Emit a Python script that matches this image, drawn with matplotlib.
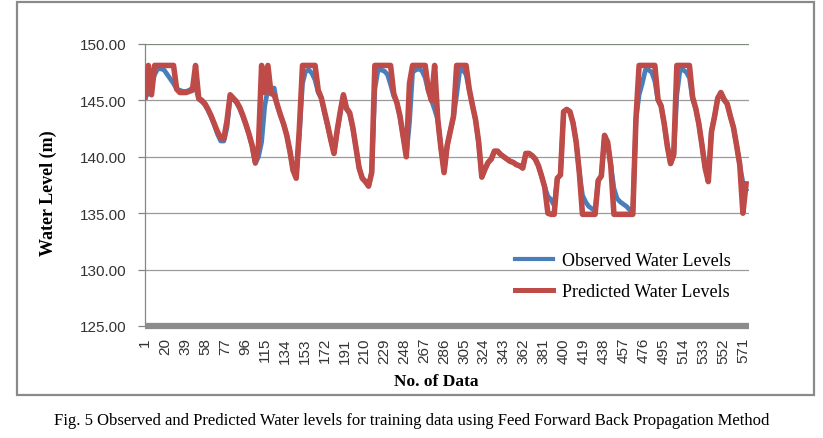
import numpy as np
import matplotlib
matplotlib.use("Agg")
import matplotlib.pyplot as plt
from matplotlib.patches import Rectangle
from matplotlib.lines import Line2D

data_no = np.arange(1, 577, 3)

observed = [
    145.3, 145.6, 146.4, 147.3, 147.8, 147.8, 147.7, 147.3, 146.9, 146.5,
    146.0, 145.9, 145.8, 145.8, 145.9, 146.1, 146.2, 145.1, 144.9, 144.6,
    144.1, 143.5, 142.8, 142.0, 141.4, 141.4, 142.6, 145.3, 145.1, 144.8,
    144.3, 143.6, 142.8, 142.0, 140.9, 139.4, 140.0, 141.3, 144.5, 146.0,
    146.0, 146.1, 144.5, 143.7, 142.9, 141.9, 140.5, 138.8, 138.2, 142.0,
    146.5, 147.6, 147.7, 147.4, 146.8, 145.7, 145.2, 143.9, 142.7, 141.5,
    140.3, 142.2, 143.9, 145.4, 144.2, 143.8, 142.5, 140.8, 139.0, 138.1,
    137.8, 137.4, 138.6, 146.0, 147.7, 147.7, 147.6, 147.3, 146.4, 145.4,
    144.8, 143.5, 141.8, 140.1, 143.0, 147.5, 147.7, 147.8, 147.6, 147.0,
    145.8, 145.0, 144.2, 143.3, 140.8, 138.7, 141.0, 142.3, 143.5, 145.5,
    147.7, 147.7, 147.3, 145.9, 144.6, 143.3, 141.2, 138.2, 138.9, 139.5,
    139.8, 140.5, 140.5, 140.2, 140.0, 139.8, 139.6, 139.5, 139.3, 139.2,
    139.0, 140.3, 140.3, 140.1, 139.8, 139.2, 138.3, 137.3, 136.5, 136.2,
    135.7, 138.1, 138.4, 144.0, 144.2, 144.0, 143.0, 141.3, 138.6, 136.6,
    136.0, 135.6, 135.4, 135.2, 137.9, 138.3, 141.8, 141.2, 139.3, 137.2,
    136.3, 136.0, 135.8, 135.6, 135.3, 135.2, 143.3, 145.5, 146.5, 147.7,
    147.7, 147.5, 146.7, 145.0, 144.5, 142.9, 140.9, 139.4, 140.1, 145.5,
    147.7, 147.7, 147.5, 147.0, 145.1, 144.3, 142.9, 141.0, 139.0, 138.0,
    142.3, 143.6, 145.2, 145.6, 145.0, 144.7, 143.6, 142.6, 141.0, 139.3,
    137.7, 137.1,
]

predicted = [
    145.3, 148.1, 145.5, 148.1, 148.1, 148.1, 148.1, 148.1, 148.1, 148.1,
    146.0, 145.7, 145.7, 145.7, 145.8, 145.9, 148.1, 145.2, 145.0, 144.7,
    144.2, 143.6, 142.9, 142.2, 141.7, 141.6, 143.2, 145.5, 145.2, 144.9,
    144.4, 143.7, 142.9, 142.0, 141.0, 139.5, 141.0, 148.1, 145.7, 148.1,
    145.6, 145.5, 144.6, 143.7, 142.9, 141.9, 140.5, 138.8, 138.1, 142.5,
    148.1, 148.1, 148.1, 148.1, 148.1, 145.9, 145.2, 144.0, 142.8, 141.5,
    140.3, 142.3, 144.0, 145.5, 144.3, 143.9, 142.6, 140.8, 139.0, 138.1,
    137.8, 137.4, 138.6, 148.1, 148.1, 148.1, 148.1, 148.1, 148.1, 145.6,
    144.8, 143.6, 141.8, 140.0, 146.5, 148.1, 148.1, 148.1, 148.1, 148.1,
    146.0, 145.0, 148.1, 143.3, 140.8, 138.6, 141.0, 142.3, 143.6, 148.1,
    148.1, 148.1, 148.1, 146.0, 144.6, 143.3, 141.3, 138.2, 138.9, 139.5,
    139.8, 140.5, 140.5, 140.2, 140.0, 139.8, 139.6, 139.5, 139.3, 139.2,
    139.0, 140.3, 140.3, 140.1, 139.8, 139.2, 138.3, 137.3, 135.0, 134.9,
    134.9, 138.1, 138.4, 144.0, 144.2, 144.0, 143.0, 141.3, 138.6, 134.9,
    134.9, 134.9, 134.9, 134.9, 137.9, 138.3, 141.9, 141.3, 139.2, 134.9,
    134.9, 134.9, 134.9, 134.9, 134.9, 134.9, 143.4, 148.1, 148.1, 148.1,
    148.1, 148.1, 148.1, 145.1, 144.5, 142.9, 140.9, 139.4, 140.2, 148.1,
    148.1, 148.1, 148.1, 148.1, 145.3, 144.3, 142.9, 141.0, 139.0, 137.8,
    142.2, 143.6, 145.2, 145.7, 145.1, 144.7, 143.6, 142.6, 141.0, 139.3,
    135.0, 137.6,
]

x_ticks = list(range(1, 572, 19))
y_ticks = [125, 130, 135, 140, 145, 150]
series_names = ["Observed Water Levels", "Predicted Water Levels"]
caption = ("Fig. 5 Observed and Predicted Water levels for training data "
           "using Feed Forward Back Propagation Method")

# ---- figure ----
W, H = 823, 439
fig = plt.figure(figsize=(W / 100, H / 100), dpi=100, facecolor="white")

def fx(px):
    return px / W

def fy(py):
    return 1 - py / H

# outer chart frame
fig.patches.append(Rectangle((fx(17), fy(396)), fx(814) - fx(17), fy(3) - fy(396),
                             transform=fig.transFigure, fill=False,
                             edgecolor="#8a8a8a", linewidth=1.6))

ax = fig.add_axes([fx(145), fy(327), fx(749) - fx(145), fy(45) - fy(327)])
ax.set_facecolor("none")

blue = "#4A7EBB"
red = "#BE4B48"
ax.plot(data_no, observed, color=blue, lw=3.4, solid_joinstyle="round", zorder=3)
ax.plot(data_no, predicted, color=red, lw=4.0, solid_joinstyle="round", zorder=4)

ax.set_xlim(0.8, 576.8)
ax.set_ylim(125, 150)

# grid
for v in y_ticks[1:]:
    ax.axhline(v, color="#9a9a9a" if v < 150 else "#7f8a7f", lw=0.9, zorder=1)

for s in ["top", "right"]:
    ax.spines[s].set_visible(False)
ax.spines["left"].set_color("#868686")
ax.spines["left"].set_linewidth(0.9)
ax.spines["bottom"].set_color("#8c8c8c")
ax.spines["bottom"].set_linewidth(4.5)
ax.spines["bottom"].set_capstyle("butt")

ax.set_yticks(y_ticks)
ax.set_yticklabels([f"{v:.2f}" for v in y_ticks])
ax.tick_params(axis="y", direction="out", length=5, width=0.9, color="#868686",
               pad=8, labelsize=11, labelcolor="#333333")
ax.set_xticks(x_ticks)
ax.set_xticklabels([str(v) for v in x_ticks], rotation=90, va="top", ha="center")
ax.tick_params(axis="x", length=0, pad=8, labelsize=11, labelcolor="#333333")
for lab in ax.get_xticklabels() + ax.get_yticklabels():
    lab.set_fontfamily("Liberation Sans")

serif = "Liberation Serif"
fig.text(fx(48), fy(193), "Water Level (m)", rotation=90, ha="center", va="center",
         fontsize=13, fontweight="bold", family=serif)
fig.text(fx(436), fy(382), "No. of Data", ha="center", va="center",
         fontsize=12.5, fontweight="bold", family=serif)
fig.text(fx(412), fy(421), caption, ha="center", va="center",
         fontsize=12, family=serif)

handles = [Line2D([], [], color=blue, lw=3.0), Line2D([], [], color=red, lw=3.6)]
leg = fig.legend(handles, series_names, loc="upper left",
                 bbox_to_anchor=(fx(515), fy(253)), bbox_transform=fig.transFigure,
                 frameon=False, borderpad=0, borderaxespad=0, handlelength=2.1,
                 handletextpad=0.5, labelspacing=0.8,
                 prop={"family": serif, "size": 13})

fig.savefig("out.png", dpi=100, facecolor="white")
